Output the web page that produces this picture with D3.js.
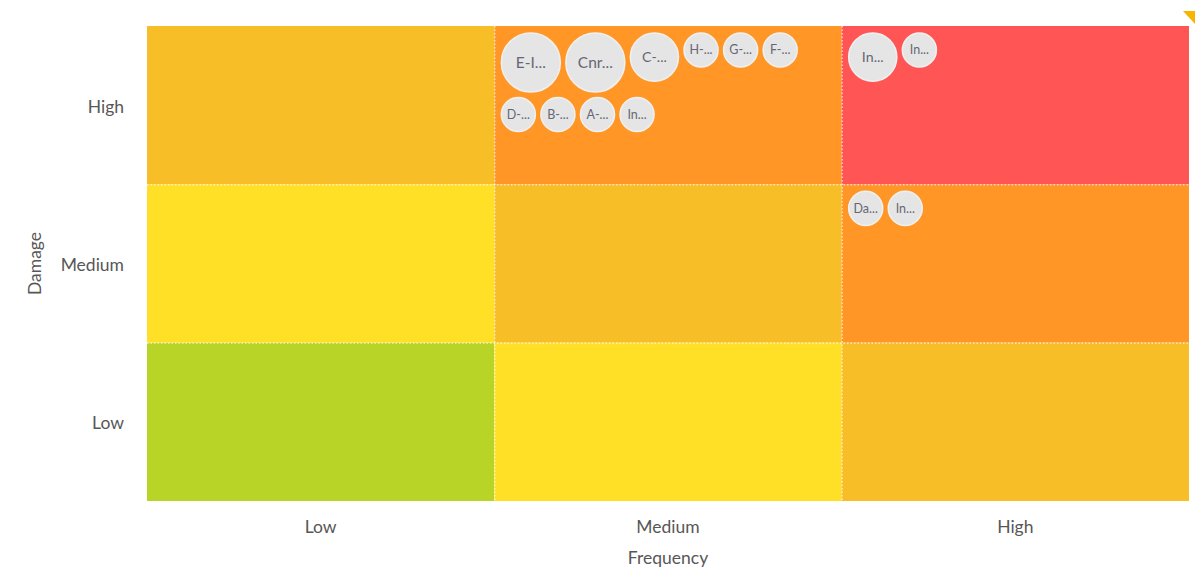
<!DOCTYPE html>
<html>
<head>
<meta charset="utf-8">
<script src="https://cdn.jsdelivr.net/npm/d3@7"></script>
<style>
  body { margin: 0; background: #fff; }
  svg text { font-family: Lato, "Open Sans", sans-serif; }
  .tick-label { fill: #575757; font-size: 17.5px; }
  .axis-title { fill: #575757; font-size: 17.5px; }
  .bubble-label { fill: #676773; }
</style>
</head>
<body>
<div id="chart"></div>
<script>
var margin = {top: 26, right: 11, bottom: 83, left: 147},
    width = 1200 - margin.left - margin.right,
    height = 584 - margin.top - margin.bottom;

// levels on both axes (low to high)
var frequencyLevels = ["Low", "Medium", "High"];
var damageLevels = ["Low", "Medium", "High"];

// risk score = frequency index + damage index
var riskScores = [0, 1, 2, 3, 4];
var riskColors = ["#b8d426", "#ffe026", "#f7be28", "#ff9626", "#ff5555"];

// risks shown as bubbles
var riskLabels = ["E-I...", "Cnr...", "C-...", "H-...", "G-...", "F-...", "D-...", "B-...", "A-...", "In...",
                  "In...", "In...", "Da...", "In..."];
var riskFrequency = ["Medium", "Medium", "Medium", "Medium", "Medium", "Medium", "Medium", "Medium", "Medium", "Medium",
                     "High", "High", "High", "High"];
var riskDamage = ["High", "High", "High", "High", "High", "High", "High", "High", "High", "High",
                  "High", "High", "Medium", "Medium"];
var riskWeight = [3, 3, 2, 1, 1, 1, 1, 1, 1, 1,
                  2, 1, 1, 1];

var x = d3.scaleBand()
    .domain(frequencyLevels)
    .range([0, width]);

var y = d3.scaleBand()
    .domain(damageLevels.slice().reverse())
    .range([0, height]);

var color = d3.scaleOrdinal()
    .domain(riskScores)
    .range(riskColors);

var r = d3.scaleSqrt()
    .domain([0, 3])
    .range([0, 29.5]);

var fontSize = d3.scaleLinear()
    .domain([17, 29.5])
    .range([12.5, 15.5]);

var svg = d3.select("#chart").append("svg")
    .attr("width", width + margin.left + margin.right)
    .attr("height", height + margin.top + margin.bottom)
    .append("g")
    .attr("transform", "translate(" + margin.left + "," + margin.top + ")");

// CELLS

var cells = [];
damageLevels.forEach(function(dm, di) {
    frequencyLevels.forEach(function(fq, fi) {
        cells.push({frequency: fq, damage: dm, score: fi + di});
    });
});

svg.selectAll(".cell")
    .data(cells)
    .enter().append("rect")
    .attr("class", "cell")
    .attr("x", function(d) { return x(d.frequency); })
    .attr("y", function(d) { return y(d.damage); })
    .attr("width", x.bandwidth())
    .attr("height", y.bandwidth())
    .attr("fill", function(d) { return color(d.score); });

// dotted white separators between cells
svg.selectAll(".vsep")
    .data(frequencyLevels.slice(1))
    .enter().append("line")
    .attr("x1", function(d) { return x(d) + 0.5; })
    .attr("x2", function(d) { return x(d) + 0.5; })
    .attr("y1", 0)
    .attr("y2", height)
    .attr("stroke", "#fff")
    .attr("stroke-opacity", 0.9)
    .attr("stroke-dasharray", "1.5,2");

svg.selectAll(".hsep")
    .data(damageLevels.slice(0, 2))
    .enter().append("line")
    .attr("y1", function(d) { return y(d) + 0.5; })
    .attr("y2", function(d) { return y(d) + 0.5; })
    .attr("x1", 0)
    .attr("x2", width)
    .attr("stroke", "#fff")
    .attr("stroke-opacity", 0.9)
    .attr("stroke-dasharray", "1.5,2");

// BUBBLES - simple flow layout inside each cell

var risks = riskLabels.map(function(label, i) {
    return {label: label, frequency: riskFrequency[i], damage: riskDamage[i], r: r(riskWeight[i])};
});

var pad = 7, gap = 5.5;
d3.groups(risks, function(d) { return d.frequency + "|" + d.damage; }).forEach(function(g) {
    var items = g[1];
    var x0 = x(items[0].frequency) + pad,
        y0 = y(items[0].damage) + pad,
        maxX = x(items[0].frequency) + x.bandwidth() * 0.9;
    var cx = x0, rowTop = y0, rowH = 0;
    items.forEach(function(d) {
        if (cx + 2 * d.r > maxX && cx > x0) {
            cx = x0;
            rowTop += rowH + gap;
            rowH = 0;
        }
        d.x = cx + d.r;
        d.y = rowTop + d.r;
        cx += 2 * d.r + gap;
        rowH = Math.max(rowH, 2 * d.r);
    });
});

var bubble = svg.selectAll(".bubble")
    .data(risks)
    .enter().append("g")
    .attr("class", "bubble")
    .attr("transform", function(d) { return "translate(" + d.x + "," + d.y + ")"; });

bubble.append("circle")
    .attr("r", function(d) { return d.r; })
    .attr("fill", "#e5e5e5")
    .attr("stroke", "#f0f0f0")
    .attr("stroke-width", 1.5);

bubble.append("text")
    .attr("class", "bubble-label")
    .attr("text-anchor", "middle")
    .attr("dy", "0.35em")
    .style("font-size", function(d) { return fontSize(d.r) + "px"; })
    .text(function(d) { return d.label; });

// AXES (labels only)

svg.selectAll(".x-tick")
    .data(frequencyLevels)
    .enter().append("text")
    .attr("class", "tick-label")
    .attr("x", function(d) { return x(d) + x.bandwidth() / 2; })
    .attr("y", height + 26)
    .attr("dy", "0.35em")
    .attr("text-anchor", "middle")
    .text(function(d) { return d; });

svg.selectAll(".y-tick")
    .data(damageLevels)
    .enter().append("text")
    .attr("class", "tick-label")
    .attr("x", -23)
    .attr("y", function(d) { return y(d) + y.bandwidth() / 2 + 1.5; })
    .attr("dy", "0.35em")
    .attr("text-anchor", "end")
    .text(function(d) { return d; });

svg.append("text")
    .attr("class", "axis-title")
    .attr("x", width / 2)
    .attr("y", height + 57)
    .attr("dy", "0.35em")
    .attr("text-anchor", "middle")
    .text("Frequency");

svg.append("text")
    .attr("class", "axis-title")
    .attr("transform", "translate(-112," + (height / 2) + ") rotate(-90)")
    .attr("dy", "0.35em")
    .attr("text-anchor", "middle")
    .text("Damage");

// little corner marker at top right
d3.select("svg").append("path")
    .attr("d", "M1183,11 L1195,11 L1195,24 Z")
    .attr("fill", "#f7b500");
</script>
</body>
</html>
